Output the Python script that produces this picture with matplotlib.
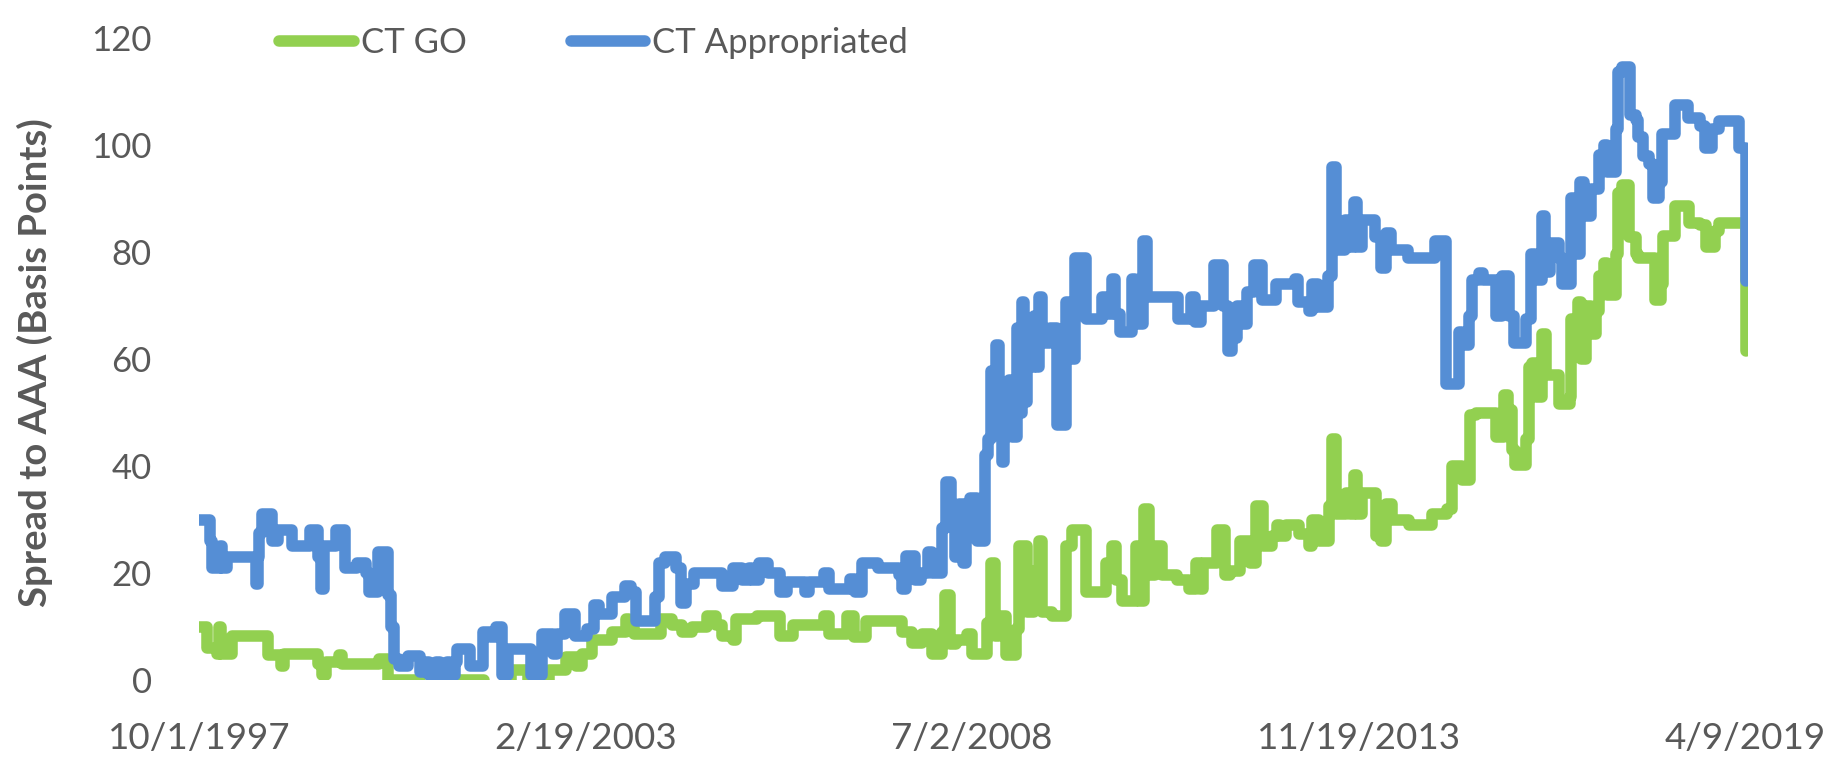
import matplotlib
matplotlib.use("Agg")
import matplotlib.pyplot as plt
import pandas as pd

# ---- data (decimal years, spread in basis points) ----
appr_t = [1997.75, 1997.88, 1997.90, 1997.93, 1998.03, 1998.04, 1998.07, 1998.14, 1998.53, 1998.54,
          1998.57, 1998.58, 1998.63, 1998.77, 1998.85, 1999.04, 1999.29, 1999.41, 1999.45, 1999.49,
          1999.66, 1999.78, 1999.95, 2000.07, 2000.12, 2000.24, 2000.38, 2000.42, 2000.46, 2000.53,
          2000.66, 2000.82, 2000.89, 2000.95, 2001.05, 2001.10, 2001.20, 2001.24, 2001.31, 2001.34,
          2001.52, 2001.70, 2001.80, 2001.88, 2001.97, 2002.05, 2002.37, 2002.52, 2002.67, 2002.73,
          2002.84, 2002.98, 2003.15, 2003.25, 2003.31, 2003.50, 2003.68, 2003.76, 2003.83, 2004.09,
          2004.15, 2004.23, 2004.39, 2004.46, 2004.53, 2004.64, 2005.03, 2005.18, 2005.30, 2005.40,
          2005.44, 2005.54, 2005.67, 2005.83, 2005.93, 2006.18, 2006.24, 2006.45, 2006.51, 2006.81,
          2006.88, 2006.97, 2007.20, 2007.49, 2007.53, 2007.59, 2007.71, 2007.79, 2007.89, 2007.95,
          2008.09, 2008.14, 2008.21, 2008.27, 2008.32, 2008.38, 2008.42, 2008.48, 2008.57, 2008.68,
          2008.73, 2008.77, 2008.84, 2008.88, 2008.92, 2008.95, 2009.02, 2009.06, 2009.13, 2009.16,
          2009.20, 2009.23, 2009.27, 2009.37, 2009.41, 2009.44, 2009.48, 2009.59, 2009.69, 2009.81,
          2009.88, 2009.94, 2010.09, 2010.31, 2010.40, 2010.45, 2010.49, 2010.56, 2010.73, 2010.77,
          2010.88, 2010.94, 2011.37, 2011.55, 2011.61, 2011.69, 2011.87, 2012.00, 2012.07, 2012.12,
          2012.19, 2012.26, 2012.33, 2012.43, 2012.54, 2012.73, 2013.00, 2013.04, 2013.19, 2013.23,
          2013.32, 2013.46, 2013.51, 2013.57, 2013.69, 2013.75, 2013.82, 2013.86, 2013.93, 2014.11,
          2014.19, 2014.26, 2014.33, 2014.57, 2014.95, 2015.10, 2015.28, 2015.32, 2015.42, 2015.46,
          2015.56, 2015.61, 2015.79, 2015.88, 2015.97, 2016.04, 2016.21, 2016.28, 2016.34, 2016.43,
          2016.48, 2016.55, 2016.67, 2016.71, 2016.84, 2016.92, 2016.96, 2017.02, 2017.12, 2017.23,
          2017.30, 2017.34, 2017.46, 2017.49, 2017.55, 2017.66, 2017.74, 2017.77, 2017.84, 2017.92,
          2017.98, 2018.06, 2018.10, 2018.28, 2018.46, 2018.63, 2018.70, 2018.80, 2018.90, 2019.17,
          2019.27]
appr_v = [30, 30, 26, 21, 21, 25, 21, 23, 23, 18,
          23, 27.5, 31, 26, 28, 25, 28, 23, 17, 25,
          28, 21, 22, 20, 16.5, 24, 16, 10, 4, 2.6,
          4.6, 1.5, 3.5, 1, 3.5, 1, 3.5, 1, 3.5, 5.9,
          2.6, 9, 8, 10, 1, 5.9, 1, 8.7, 5, 8.7,
          12.4, 8.3, 9.5, 14, 12.4, 15.6, 17.6, 16.4, 11.1, 15.6,
          22, 23, 21, 14.4, 18, 20, 17.6, 21, 18.8, 21,
          18.8, 22, 20, 16.4, 18.4, 16.4, 18.4, 20, 17, 19,
          16.4, 22, 21, 19.6, 17, 23.3, 18.8, 20, 24, 20,
          28.5, 37, 30, 23, 33, 22, 33, 34, 26, 42,
          45, 57.7, 62.6, 53.6, 40.7, 50, 56, 45.5, 65.8, 50,
          70.6, 52, 58.5, 68, 58.5, 71.5, 63, 65.8, 47.6, 70.6,
          60, 78.8, 67.4, 71.5, 68.5, 75, 68.5, 65, 75, 66.6,
          82, 71.5, 67.5, 71.5, 67, 70, 77.5, 70, 61.5, 64,
          70, 66.6, 72.5, 77.5, 71, 74, 75, 70.6, 69, 74,
          69.8, 75.5, 95.8, 80.4, 86, 81, 89.3, 81, 86, 82.8,
          77, 83.6, 80.4, 78.8, 82, 55.3, 65, 62.6, 68, 74.7,
          76, 74.7, 68, 75.5, 68, 63, 67.4, 79.6, 74.7, 86.8,
          76.3, 81.6, 78.8, 74, 90, 79.6, 93, 86.8, 91.7, 98.2,
          100, 95, 103, 113.6, 114.5, 105.5, 104.7, 101.4, 98, 96.5,
          90, 93, 102, 107.5, 105, 103.5, 99.5, 103, 104.5, 99.5,
          74.5]

go_t = [1997.75, 1997.83, 1997.86, 1998.00, 1998.03, 1998.06, 1998.21, 1998.71, 1998.89, 1998.93,
        1999.41, 1999.46, 1999.52, 1999.70, 1999.74, 2000.25, 2000.38, 2000.82, 2001.24, 2001.71,
        2002.09, 2002.33, 2002.62, 2002.86, 2003.00, 2003.08, 2003.22, 2003.50, 2003.69, 2003.73,
        2003.80, 2004.18, 2004.33, 2004.47, 2004.61, 2004.82, 2004.94, 2005.03, 2005.18, 2005.22,
        2005.51, 2005.83, 2006.01, 2006.45, 2006.51, 2006.77, 2006.86, 2007.03, 2007.53, 2007.67,
        2007.81, 2007.95, 2008.09, 2008.13, 2008.20, 2008.28, 2008.43, 2008.50, 2008.71, 2008.77,
        2008.82, 2008.88, 2008.98, 2009.12, 2009.16, 2009.27, 2009.37, 2009.44, 2009.48, 2009.62,
        2009.81, 2009.90, 2010.09, 2010.37, 2010.45, 2010.51, 2010.59, 2010.79, 2010.83, 2010.90,
        2010.97, 2011.05, 2011.15, 2011.36, 2011.52, 2011.62, 2011.68, 2011.72, 2011.91, 2012.02,
        2012.09, 2012.23, 2012.37, 2012.46, 2012.55, 2012.68, 2012.75, 2012.79, 2012.87, 2013.05,
        2013.19, 2013.23, 2013.33, 2013.47, 2013.51, 2013.57, 2013.71, 2013.76, 2013.82, 2013.86,
        2013.93, 2014.12, 2014.19, 2014.26, 2014.35, 2014.58, 2014.90, 2015.11, 2015.18, 2015.32,
        2015.43, 2015.52, 2015.79, 2015.90, 2015.96, 2016.02, 2016.06, 2016.21, 2016.25, 2016.30,
        2016.35, 2016.43, 2016.49, 2016.67, 2016.83, 2016.84, 2016.93, 2016.98, 2017.05, 2017.12,
        2017.18, 2017.23, 2017.30, 2017.34, 2017.46, 2017.49, 2017.55, 2017.65, 2017.74, 2017.77,
        2018.00, 2018.09, 2018.12, 2018.28, 2018.48, 2018.63, 2018.72, 2018.84, 2018.90, 2019.27]
go_v = [10, 10, 6, 5, 10, 5, 8.3, 4.7, 2.6, 5,
        3, 1, 3.4, 4.7, 3, 3.9, 0, -1, 0, -1,
        2, 0, 2, 4.3, 2.6, 5, 7.5, 9, 11.5, 10,
        8.7, 11.5, 10.3, 9, 10, 12, 10.3, 8.3, 7.5, 11.5,
        12, 8.3, 10.3, 12, 8.7, 12, 8, 11.1, 9, 7,
        8.7, 5, 9, 16, 6.7, 7.5, 8.7, 5, 10.7, 22,
        8.3, 12, 4.7, 9.5, 25, 12.8, 20.4, 26, 12.8, 12,
        25, 28, 16.4, 22, 25, 18.8, 14.8, 25, 14.8, 32,
        19.6, 25, 19.6, 18.8, 17, 22, 17, 22, 28, 19.6,
        20.4, 26, 22, 32.6, 25, 27, 29, 27, 29, 27.3,
        25, 30, 26, 32.6, 45, 31, 35, 31, 38.3, 31,
        35, 27, 26, 33, 30, 29, 31, 32, 40, 37.5,
        49.6, 50, 45.5, 53.3, 50.4, 43, 40.3, 45, 58.5, 59.3,
        53, 64.6, 57, 51.6, 53, 67.4, 70.6, 60, 70, 64.6,
        69, 75.5, 78, 72, 79.6, 91, 92.5, 82.8, 79.6, 78.8,
        71, 74, 83, 88.5, 85.5, 85, 81, 84, 85.5, 61.5]

tick_dates = ["1997-10-01", "2003-02-19", "2008-07-02", "2013-11-19", "2019-04-09"]
tick_labels = ["10/1/1997", "2/19/2003", "7/2/2008", "11/19/2013", "4/9/2019"]
y_ticks = [0, 20, 40, 60, 80, 100, 120]


def to_dates(years):
    out = []
    for y in years:
        yi = int(y)
        out.append(pd.Timestamp(f"{yi}-01-01") + pd.Timedelta(days=(y - yi) * 365.25))
    return out


GREEN = "#92D050"
BLUE = "#558ED5"
TXT = "#595959"
FONT = "Lato"

fig = plt.figure(figsize=(18.39, 7.57), dpi=100)
ax = fig.add_axes([199 / 1839, 1 - 680.3 / 757, (1748 - 199) / 1839, (680.3 - 37.8) / 757])

lw = 8.3
ax.plot(to_dates(go_t), go_v, color=GREEN, lw=lw, drawstyle="steps-post",
        solid_joinstyle="round", solid_capstyle="round", label="CT GO")
ax.plot(to_dates(appr_t), appr_v, color=BLUE, lw=lw, drawstyle="steps-post",
        solid_joinstyle="round", solid_capstyle="round", label="CT Appropriated")

ax.set_ylim(0, 120)
ax.set_xlim(pd.Timestamp(tick_dates[0]), pd.Timestamp(tick_dates[-1]) + pd.Timedelta(days=12))
ax.set_yticks(y_ticks)
ax.set_yticklabels([str(v) for v in y_ticks])
ax.set_xticks([pd.Timestamp(d) for d in tick_dates])
ax.set_xticklabels(tick_labels)

for s in ax.spines.values():
    s.set_visible(False)
ax.tick_params(axis="both", length=0, labelcolor=TXT)
ax.tick_params(axis="y", pad=34, labelsize=25)
ax.tick_params(axis="x", pad=30, labelsize=26.5)
for lab in ax.get_xticklabels() + ax.get_yticklabels():
    lab.set_fontfamily(FONT)

fig.text(35 / 1839, 1 - 363 / 757, "Spread to AAA (Basis Points)", rotation=90,
         ha="center", va="center", fontsize=27.5, fontweight="bold", color=TXT, family=FONT)

leg = fig.legend(loc="center left", bbox_to_anchor=(279 / 1839, 1 - 43 / 757), ncol=2,
                 frameon=False, handlelength=2.15, handletextpad=0.2, columnspacing=3.0,
                 borderpad=0, borderaxespad=0, prop={"family": FONT, "size": 25})
for t in leg.get_texts():
    t.set_color(TXT)
for h in leg.get_lines():
    h.set_solid_capstyle("round")

fig.savefig("out.png", dpi=100)
